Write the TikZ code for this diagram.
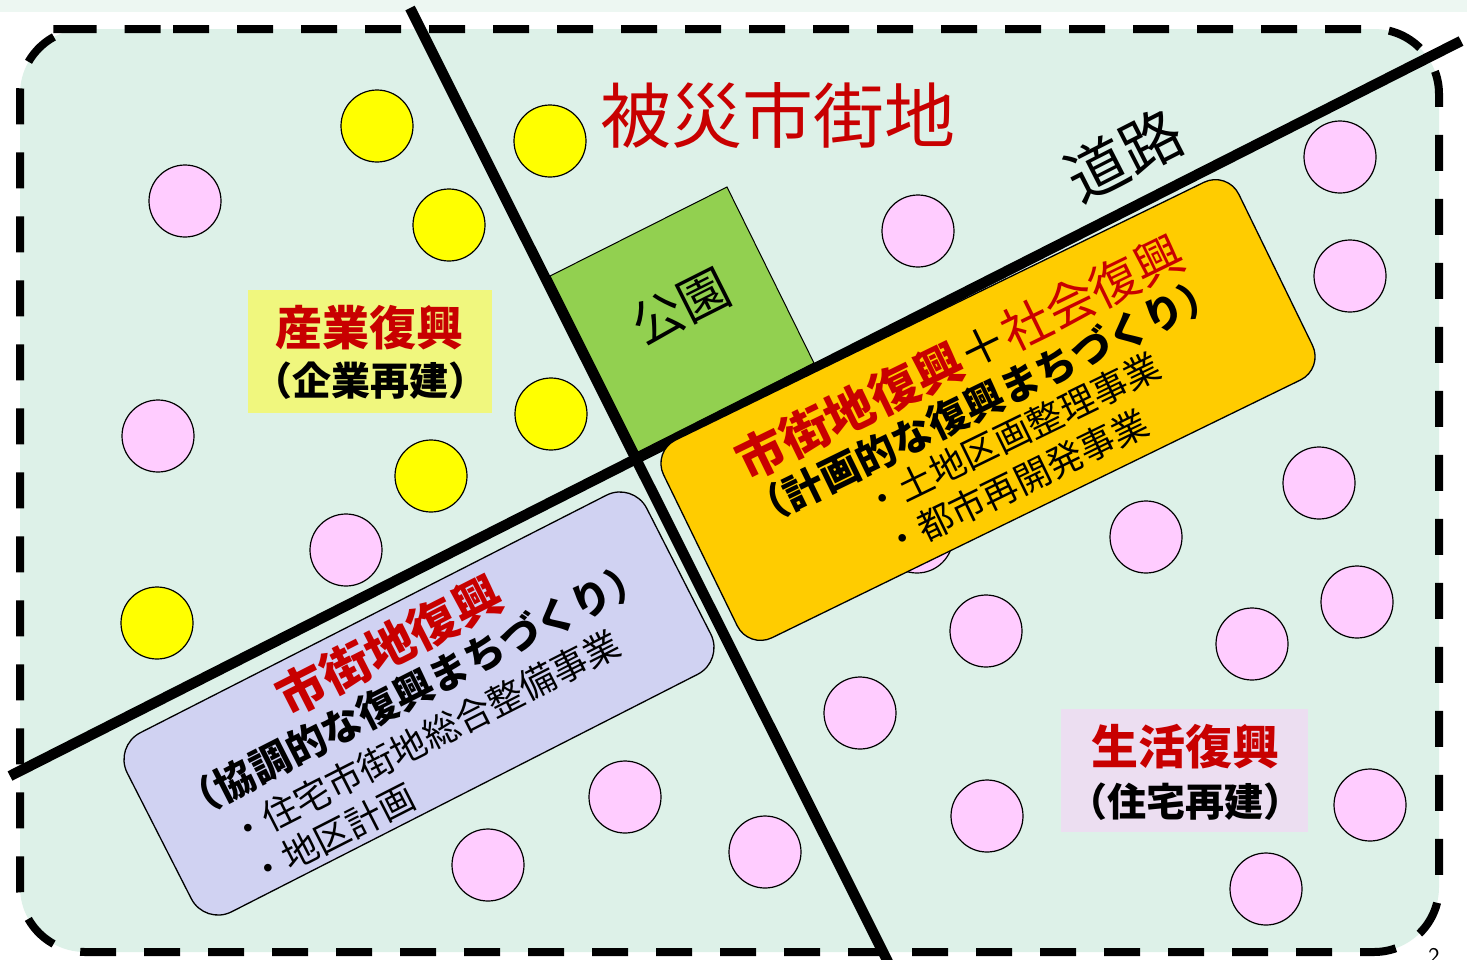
\documentclass[tikz,border=0pt]{standalone}
\usepackage{fontspec}
\newfontfamily\jp{Noto Sans CJK JP}
\definecolor{mint}{RGB}{221,241,232}
\definecolor{band}{RGB}{237,247,242}
\definecolor{pinkc}{RGB}{255,204,255}
\definecolor{yel}{RGB}{255,255,0}
\definecolor{parkg}{RGB}{146,208,80}
\definecolor{orng}{RGB}{255,204,0}
\definecolor{lav}{RGB}{208,210,242}
\definecolor{dred}{RGB}{200,0,0}
\definecolor{ylbox}{RGB}{240,247,126}
\definecolor{pkbox}{RGB}{236,222,241}
\begin{document}
\begin{tikzpicture}[x=1pt,y=-1pt,
  dot/.style={circle, draw=black, line width=1.2pt, minimum size=72pt, inner sep=0pt},
  pk/.style={dot, fill=pinkc},
  yl/.style={dot, fill=yel},
  road/.style={line width=10.5pt, draw=black},
  jt/.style={inner sep=0pt, font={\jp\fontsize{#1}{#1}\selectfont}},
  jb/.style={inner sep=0pt, font={\jp\bfseries\fontsize{#1}{#1}\selectfont}},
  rbox/.style={draw=black, line width=1.3pt, rounded corners=26pt}]
\clip (0,0) rectangle (1467,959);
\fill[white] (0,0) rectangle (1467,959);
\fill[band] (0,0) rectangle (1467,12);
% area
\fill[mint, rounded corners=65pt] (20,29) rectangle (1439,952);
\draw[line width=8pt, dash pattern=on 36pt off 28pt, rounded corners=65pt]
  (108,29) -- (1439,29) -- (1439,952) -- (20,952) -- (20,29) -- cycle;
% yellow circles
\node[yl] (y1) at (377,126) {};
\node[yl] (y2) at (550,141) {};
\node[yl] (y3) at (449,225) {};
\node[yl] (y4) at (551,414) {};
\node[yl] (y5) at (431,476) {};
\node[yl] (y6) at (157,623) {};
% pink circles
\node[pk] (p1) at (185,201) {};
\node[pk] (p2) at (158,436) {};
\node[pk] (p3) at (346,550) {};
\node[pk] (p4) at (918,231) {};
\node[pk] (p5) at (1340,157) {};
\node[pk] (p6) at (1350,276) {};
\node[pk] (p7) at (1319,483) {};
\node[pk] (p8) at (1146,537) {};
\node[pk] (p9) at (1357,602) {};
\node[pk] (p10) at (986,631) {};
\node[pk] (p11) at (1252,644) {};
\node[pk] (p12) at (860,713) {};
\node[pk] (p13) at (625,797) {};
\node[pk] (p14) at (765,852) {};
\node[pk] (p15) at (488,865) {};
\node[pk] (p16) at (987,816) {};
\node[pk] (p17) at (1370,805) {};
\node[pk] (p18) at (1266,889) {};
\node[pk] (p19) at (917,537) {};
% park
\draw[fill=parkg, line width=1pt] (550,276) -- (727,187) -- (814,363) -- (638,452) -- cycle;
\node[jt=51, rotate=26.7] (park) at (681,307) {公園};
% roads
\draw[road] (410,8) -- (888,962);
\draw[road] (10,776) -- (1461,41);
% titles
\node[jt=71, text=dred] (title) at (778,115) {被災市街地};
\node[jt=61, rotate=27] (douro) at (1124,155) {道路};
% industry box
\fill[ylbox] (248,290) rectangle (492,413);
\node[jb=47, text=dred] (ind1) at (369,328) {産業復興};
\node[jb=39] (ind2) at (370,381) {（企業再建）};
% life box
\fill[pkbox] (1061,709) rectangle (1308,832);
\node[jb=47, text=dred] (life1) at (1185,747) {生活復興};
\node[jb=39] (life2) at (1185,802) {（住宅再建）};
% orange box
\begin{scope}[shift={(988,410)}, rotate=26]
\draw[rbox, fill=orng] (-320,-110) rectangle (320,110);
\node[jt=49, rotate=26] (o1) at (-2,-60) {{\bfseries\color{dred}市街地復興}＋{\color{dred}社会復興}};
\node[jb=40, rotate=26] (o2) at (0,-10) {（計画的な復興まちづくり）};
\node[jt=36, rotate=26, anchor=west] (o3) at (-151,33) {・土地区画整理事業};
\node[jt=36, rotate=26, anchor=west] (o4) at (-151,78) {・都市再開発事業};
\end{scope}
% lavender box
\begin{scope}[shift={(419,703.5)}, rotate=27]
\draw[rbox, fill=lav, rounded corners=30pt] (-291.5,-100.5) rectangle (291.5,100.5);
\node[jb=49, rotate=27, text=dred] (l1) at (0,-65) {市街地復興};
\node[jb=40, rotate=27] (l2) at (1,-15) {（協調的な復興まちづくり）};
\node[jt=36, rotate=27, anchor=west] (l3) at (-227,34) {・住宅市街地総合整備事業};
\node[jt=36, rotate=27, anchor=west] (l4) at (-227,78) {・地区計画};
\end{scope}
\node[inner sep=0pt, anchor=north, font=\sffamily\fontsize{24}{24}\selectfont] (pg) at (1434,948) {2};
\end{tikzpicture}
\end{document}
